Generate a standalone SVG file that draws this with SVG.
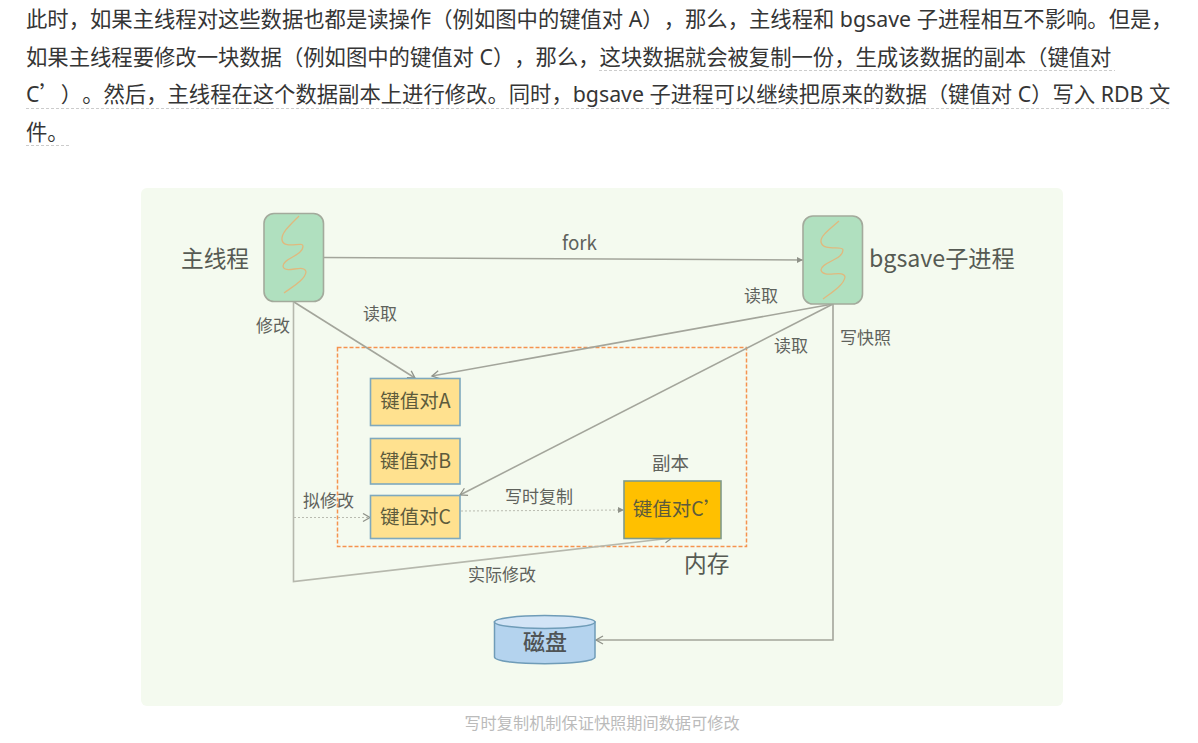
<svg xmlns="http://www.w3.org/2000/svg" width="1198" height="743" viewBox="0 0 1198 743">
<style>
text{font-family:"Noto Sans CJK SC","Noto Sans",sans-serif;text-spacing-trim:space-all}
.p{font-size:21.33px;fill:#353535;font-family:"Noto Sans","Noto Sans CJK SC",sans-serif}
.q{font-family:"Noto Sans CJK SC",sans-serif}
.u{stroke:#ccc;stroke-width:1;stroke-dasharray:3 2;fill:none}
.c{stroke:#a3a59b;stroke-width:1.6;fill:none}
.d{stroke:#b9bbb0;stroke-width:1;stroke-dasharray:2 2;fill:none}
.l{font-size:17px;fill:#5f625c}
.big{font-size:22.7px;fill:#565a53}
.th{fill:#b0e0bf;stroke:#a3aa9c;stroke-width:1.6}
.w{fill:none;stroke:#e0b97e;stroke-width:1.3}
.k{fill:#ffe18f;stroke:#7fa9bd;stroke-width:1.6}
.kt{font-size:19.5px;fill:#5d5b3c;text-anchor:middle}
</style>
<defs>
<marker id="o" markerWidth="10" markerHeight="10" refX="8" refY="5" orient="auto" markerUnits="userSpaceOnUse"><path d="M1 1 L8 5 L1 9" fill="none" stroke="#8f9289" stroke-width="1.3"/></marker>
<marker id="f" markerWidth="8" markerHeight="8" refX="7" refY="4" orient="auto" markerUnits="userSpaceOnUse"><path d="M1 1 L7 4 L1 7Z" fill="#8f9289"/></marker>
</defs>
<rect width="1198" height="743" fill="#fff"/>
<g id="paragraph">
<text class="p" x="26" y="27">此时，如果主线程对这些数据也都是读操作（例如图中的键值对 A），那么，主线程和 bgsave 子进程相互不影响。但是，</text>
<text class="p" x="26" y="65">如果主线程要修改一块数据（例如图中的键值对 C），那么，这块数据就会被复制一份，生成该数据的副本（键值对</text>
<text class="p" x="26" y="102">C<tspan class="q">’</tspan>）。然后，主线程在这个数据副本上进行修改。同时，bgsave 子进程可以继续把原来的数据（键值对 C）写入 RDB 文</text>
<text class="p" x="26" y="140">件。</text>
<path class="u" d="M599 70.500H1115M26 108.500H1171M26 145.500H69"/>
</g>
<rect id="panel" x="141" y="188" width="922" height="518" rx="6" fill="#f4faef"/>
<g id="memory"><rect x="337.500" y="347.500" width="409" height="199" fill="none" stroke="#f5934f" stroke-width="1.500" stroke-dasharray="4 2"/><text class="big" x="684" y="572">内存</text></g>
<g id="connectors">
<path class="c" d="M323 257.500L803 260" marker-end="url(#f)"/>
<path class="c" d="M294 302L415 378" marker-end="url(#o)"/>
<path class="c" d="M833 304L432 376" marker-end="url(#o)"/>
<path class="c" d="M833 304L460 495" marker-end="url(#o)"/>
<path class="c" d="M833 304V640H596" marker-end="url(#o)"/>
<path class="c" d="M293.500 302V581.500L672 538" marker-end="url(#o)" style="stroke:#b6b8ad"/>
<path class="d" d="M294 517.500H370" marker-end="url(#o)"/>
<path class="d" d="M461 511L624 510" marker-end="url(#f)"/>
</g>
<g id="main-thread"><rect class="th" x="264" y="213.500" width="59.500" height="88" rx="10"/><path class="w" d="M299 216C290 225 281 233 282 240C284 250 303 241 303 246C303 256 283 258 283 266C284 275 305 263 306 272C305 280 292 287 284 293"/><text class="big" x="181" y="267">主线程</text></g>
<g id="bgsave"><rect class="th" x="803" y="216" width="59.500" height="88" rx="10"/><path class="w" d="M839 221C830 229 820 236 821 242C823 252 843 245 843 250C843 260 821 262 821 270C823 279 844 269 845 277C844 285 831 293 823 299"/><text class="big" x="869" y="267" style="font-size:23.200px">bgsave子进程</text></g>
<g id="labels">
<text class="l" x="562" y="250" style="font-size:18.800px">fork</text>
<text class="l" x="363" y="320">读取</text>
<text class="l" x="256" y="332">修改</text>
<text class="l" x="744" y="302">读取</text>
<text class="l" x="774" y="352">读取</text>
<text class="l" x="840" y="344">写快照</text>
<text class="l" x="303" y="507">拟修改</text>
<text class="l" x="505" y="503">写时复制</text>
<text class="l" x="468" y="581">实际修改</text>
<text class="l" x="652" y="470" style="font-size:18.500px">副本</text>
</g>
<g id="kv-a"><rect class="k" x="370.500" y="378.500" width="89.500" height="47"/><text class="kt" x="415.500" y="408">键值对A</text></g>
<g id="kv-b"><rect class="k" x="370.500" y="438.500" width="89.500" height="45.500"/><text class="kt" x="415.500" y="468">键值对B</text></g>
<g id="kv-c"><rect class="k" x="370.500" y="495.500" width="89.500" height="43"/><text class="kt" x="415.500" y="524">键值对C</text></g>
<g id="kv-c-copy"><rect x="624" y="481" width="97" height="57.500" fill="#ffc000" stroke="#7f9a8a" stroke-width="1.600"/><text class="kt" x="678" y="516">键值对C’</text></g>
<g id="disk"><path d="M494.500 622V657C494.500 666 595 666 595 657V622Z" fill="#b4d3ee" stroke="#6f9cb8" stroke-width="1.500"/><ellipse cx="544.700" cy="622" rx="50.300" ry="6.500" fill="#d2e4f6" stroke="#6f9cb8" stroke-width="1.500"/><text x="545" y="650" text-anchor="middle" style="font-size:22px;font-weight:500;fill:#4f5355">磁盘</text></g>
<text id="caption" x="602" y="729" text-anchor="middle" style="font-size:16.200px;fill:#bbb">写时复制机制保证快照期间数据可修改</text>
</svg>
